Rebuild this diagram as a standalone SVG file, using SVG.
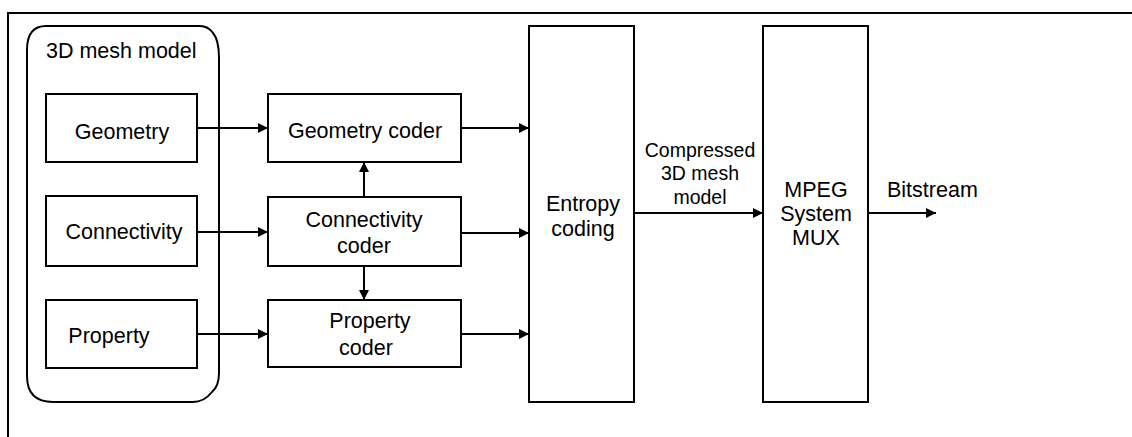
<svg xmlns="http://www.w3.org/2000/svg" width="1132" height="437" viewBox="0 0 1132 437">
<style>
.box{fill:#fff;stroke:#000;stroke-width:2}
.ln{fill:none;stroke:#000;stroke-width:2}
text{font-family:"Liberation Sans",Arial,sans-serif;font-size:21.5px;fill:#000}
.c{text-anchor:middle}
.lbl{font-size:19.5px}
</style>
<defs>
<marker id="ah" markerUnits="userSpaceOnUse" markerWidth="10" markerHeight="10" refX="10" refY="5" orient="auto">
<path d="M0,0 L10,5 L0,10 Z" fill="#000"/>
</marker>
</defs>
<rect width="1132" height="437" fill="#fff"/>
<path class="ln" d="M8,437 L8,13 L1132,13"/>
<g id="mesh-model">
<path class="ln" d="M46,26 L200,26 Q208,26 213,33 Q219,40 219,58 L219,373 Q219,386 212,392 Q204,402 193,402 L53,402 Q27,402 27,376 L27,50 Q27,26 46,26 Z"/>
<text x="46" y="58">3D mesh model</text>
</g>
<g id="geometry"><rect class="box" x="46" y="94" width="151" height="68"/><text class="c" x="122" y="139">Geometry</text></g>
<g id="connectivity"><rect class="box" x="46" y="196" width="151" height="70"/><text class="c" x="124" y="239">Connectivity</text></g>
<g id="property"><rect class="box" x="46" y="300" width="151" height="68"/><text class="c" x="109" y="343">Property</text></g>
<g id="geometry-coder"><rect class="box" x="268" y="94" width="193" height="68"/><text class="c" x="365" y="138">Geometry coder</text></g>
<g id="connectivity-coder"><rect class="box" x="268" y="197" width="193" height="69"/><text class="c" x="364" y="227">Connectivity</text><text class="c" x="364" y="253">coder</text></g>
<g id="property-coder"><rect class="box" x="268" y="300" width="193" height="67"/><text class="c" x="370" y="328">Property</text><text class="c" x="366" y="355">coder</text></g>
<g id="entropy"><rect class="box" x="529" y="26" width="105" height="376"/><text class="c" x="583" y="211">Entropy</text><text class="c" x="583" y="236">coding</text></g>
<g id="mux"><rect class="box" x="763" y="26" width="105" height="376"/><text class="c" x="816" y="197">MPEG</text><text class="c" x="816" y="221">System</text><text class="c" x="816" y="245">MUX</text></g>
<g id="connectors">
<line class="ln" x1="197" y1="128" x2="268" y2="128" marker-end="url(#ah)"/>
<line class="ln" x1="197" y1="232" x2="268" y2="232" marker-end="url(#ah)"/>
<line class="ln" x1="197" y1="334" x2="268" y2="334" marker-end="url(#ah)"/>
<line class="ln" x1="461" y1="128" x2="529" y2="128" marker-end="url(#ah)"/>
<line class="ln" x1="461" y1="233" x2="529" y2="233" marker-end="url(#ah)"/>
<line class="ln" x1="461" y1="334" x2="529" y2="334" marker-end="url(#ah)"/>
<line class="ln" x1="364" y1="197" x2="364" y2="162" marker-end="url(#ah)"/>
<line class="ln" x1="364" y1="266" x2="364" y2="300" marker-end="url(#ah)"/>
<line class="ln" x1="634" y1="213" x2="763" y2="213" marker-end="url(#ah)"/>
<line class="ln" x1="868" y1="213" x2="936" y2="213" marker-end="url(#ah)"/>
<text class="c lbl" x="700" y="157">Compressed</text>
<text class="c lbl" x="700" y="180">3D mesh</text>
<text class="c lbl" x="700" y="204">model</text>
<text x="887" y="197">Bitstream</text>
</g>
</svg>
